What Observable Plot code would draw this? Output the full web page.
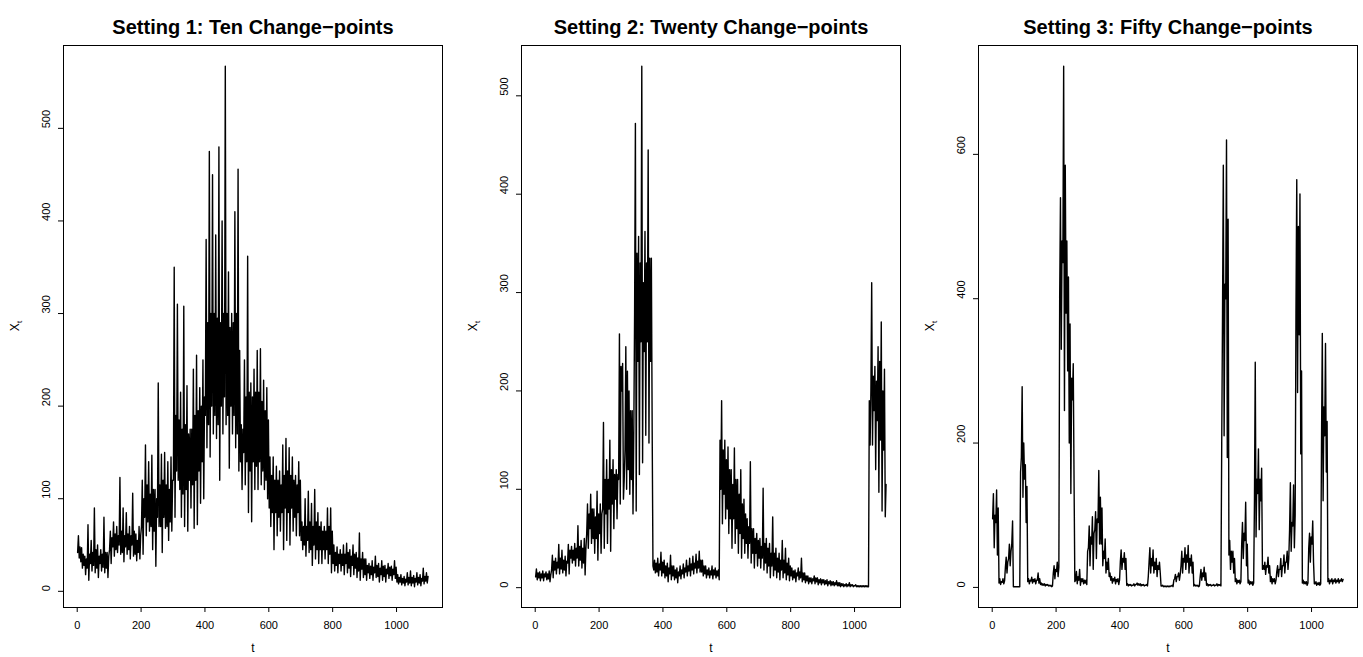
<!DOCTYPE html>
<html><head><meta charset="utf-8">
<script src="https://cdn.jsdelivr.net/npm/d3@7"></script>
<script src="https://cdn.jsdelivr.net/npm/@observablehq/plot@0.6"></script>
<style>
html,body{margin:0;padding:0;background:#fff;overflow:hidden;}
#wrap{position:relative;width:1363px;height:657px;}
.panel{position:absolute;top:0;}
</style></head><body><div id="wrap"></div>
<script>
// Titles and tick labels
const titles = ["Setting 1: Ten Change\u2212points", "Setting 2: Twenty Change\u2212points", "Setting 3: Fifty Change\u2212points"];
const xTicks = [0, 200, 400, 600, 800, 1000];
const yTicks1 = [0, 100, 200, 300, 400, 500];
const yTicks2 = [0, 100, 200, 300, 400, 500];
const yTicks3 = [0, 200, 400, 600];
const xLabel = "t";

// Series: four readings per 10 time steps
// (t = 1.25, 3.75, 6.25, 8.75, 11.25, ...), core and extreme values of the path.
const series1 = [
  42,60,36,48, 32,47,25,40, 28,38,18,35, 25,72,12,40, 30,55,22,42, 28,90,20,45, 25,50,15,38, 30,45,22,40, 26,80,20,42, 25,42,15,38,
  45,65,30,58, 48,75,38,62, 45,70,42,60, 50,123,40,65, 42,90,32,60, 48,85,40,62, 45,70,35,60, 50,106,38,65, 40,62,33,55, 42,70,35,60,
  70,120,40,100, 80,158,60,115, 75,140,65,105, 70,147,45,110, 65,110,27,100, 80,225,70,115, 70,148,42,120, 80,150,68,115, 70,140,55,110, 75,145,65,120,
  120,350,80,190, 130,310,120,185, 110,215,80,175, 105,308,70,180, 110,222,65,170, 120,175,90,175, 115,240,68,190, 120,255,72,195, 130,220,95,200, 140,250,100,210,
  190,380,155,290, 180,475,145,300, 200,450,170,300, 190,385,165,295, 180,480,120,290, 200,400,170,300, 210,567,180,300, 190,345,133,285, 200,300,170,290, 190,410,155,300,
  170,456,130,260, 140,180,110,175, 150,250,115,210, 140,362,85,215, 130,225,75,210, 140,240,110,215, 135,260,110,215, 140,262,115,205, 130,228,110,195, 120,220,100,185,
  90,145,70,125, 85,145,45,120, 85,135,60,120, 80,130,65,115, 85,158,45,125, 90,165,55,130, 85,155,50,125, 90,145,65,120, 80,125,60,115, 85,140,60,120,
  55,75,45,70, 50,100,38,70, 55,108,42,75, 45,95,28,70, 50,110,35,75, 45,85,30,70, 45,75,30,65, 45,70,35,65, 45,90,30,70, 40,90,20,65,
  30,50,22,42, 28,48,20,40, 30,45,22,40, 28,50,18,40, 30,52,20,42, 25,45,16,38, 28,50,18,40, 25,42,15,36, 22,63,12,35, 24,42,15,35,
  18,35,12,28, 20,30,14,27, 18,33,12,26, 20,38,15,28, 16,30,10,25, 18,33,12,27, 16,28,10,24, 19,30,14,26, 17,27,12,24, 18,33,14,26,
  10,18,8,15, 10,18,7,14, 9,16,6,13, 10,20,7,15, 9,22,6,15, 9,17,5,14, 10,20,7,15, 9,18,6,14, 11,25,8,16, 11,20,9,16
];
const series2 = [
  11,19,8,15, 10,16,7,14, 10,17,7,14, 11,16,8,14, 9,17,6,13, 18,33,10,27, 18,30,14,26, 20,44,14,30, 19,38,15,28, 18,32,12,27,
  25,44,14,38, 30,42,25,38, 28,45,22,40, 30,63,22,42, 28,48,20,40, 25,50,13,40, 55,85,40,75, 60,95,45,80, 50,80,35,72, 50,98,28,75,
  55,85,35,75, 80,168,40,110, 75,130,45,110, 80,150,37,120, 85,130,60,115, 90,120,70,115, 110,258,85,225, 200,228,90,110, 140,245,100,220, 120,200,95,180,
  110,180,75,160, 280,472,78,340, 230,357,115,330, 250,530,127,310, 240,362,155,330, 250,445,147,335, 230,335,162,22, 18,28,15,25, 16,30,12,24, 18,36,12,26,
  15,28,10,22, 12,25,6,20, 14,33,8,22, 12,22,8,18, 10,20,5,16, 12,22,9,18, 14,24,10,20, 16,28,12,22, 17,30,12,24, 18,32,14,25,
  20,34,15,27, 20,37,16,28, 16,28,12,22, 14,22,10,18, 13,20,10,17, 13,22,9,18, 13,20,10,17, 12,18,8,150, 100,190,65,140, 95,150,70,130,
  80,143,55,120, 70,120,40,105, 70,142,45,110, 60,110,35,95, 55,120,30,85, 50,90,35,75, 45,70,30,62, 45,128,25,60, 35,60,20,50, 35,55,22,48,
  30,50,20,42, 30,101,18,45, 25,50,15,40, 22,45,10,35, 22,72,12,35, 18,40,10,30, 16,35,8,28, 18,48,10,28, 15,40,8,25, 13,30,7,22,
  12,20,8,17, 10,18,6,15, 12,20,8,16, 10,30,6,15, 8,15,5,12, 7,12,4,10, 6,10,4,9, 7,12,4,10, 6,10,3,8, 5,9,3,8,
  5,8,3,7, 4,8,2,6, 4,7,2,6, 3,6,2,5, 3,7,2,5, 2,5,1,4, 2,4,1,3, 2,4,1,3, 2,5,1,3, 2,3,1,2,
  2,3,1,2, 1,2,1,2, 1,2,1,2, 1,2,1,2, 1,1,190,145, 200,310,145,215, 180,225,120,210, 170,245,97,230, 150,270,78,200, 140,222,72,105
];
const series3 = [
  95,130,55,100, 90,135,45,110, 6,12,4,8, 7,12,5,9, 28,42,20,35, 40,60,30,50, 60,92,1,1, 1,1,1,1, 1,1,1,160, 180,278,125,200,
  150,170,90,140, 8,12,5,10, 9,14,6,11, 8,12,5,10, 10,20,6,12, 4,6,3,5, 3,5,2,4, 3,4,2,3, 2,3,1,2, 20,30,12,25,
  22,35,15,28, 400,540,330,480, 450,722,245,585, 380,480,300,430, 200,365,130,290, 260,310,150,8, 10,22,5,15, 10,25,3,12, 8,12,5,10, 6,10,4,50,
  55,85,30,70, 60,98,25,75, 80,105,40,95, 90,162,60,125, 60,110,30,50, 40,67,20,35, 25,40,15,20, 10,15,6,12, 9,14,5,11, 8,12,4,10,
  35,52,25,40, 35,48,25,40, 3,5,2,4, 3,4,2,3, 3,5,2,4, 4,6,3,5, 3,5,2,4, 3,4,2,3, 3,4,2,15, 35,55,20,40,
  30,52,20,35, 25,40,15,30, 25,35,20,2, 2,3,1,2, 1,2,1,2, 1,2,1,2, 2,3,1,10, 12,18,8,15, 15,20,10,18, 30,50,20,40,
  35,55,25,45, 35,58,20,40, 30,45,20,35, 2,4,2,3, 2,3,1,2, 15,25,10,20, 15,28,10,20, 3,5,2,4, 3,4,2,3, 3,4,2,3,
  3,5,2,4, 3,4,2,200, 380,585,210,420, 400,620,180,510, 45,65,25,50, 35,50,20,40, 8,12,5,10, 7,10,5,8, 60,90,40,75, 65,118,30,60,
  6,10,4,8, 5,8,3,6, 120,312,70,150, 130,192,80,150, 120,165,25,30, 25,35,18,30, 28,42,20,30, 8,15,5,12, 8,12,5,10, 22,30,15,25,
  25,40,15,30, 30,45,20,35, 35,50,25,40, 80,145,50,90, 85,142,55,100, 380,565,270,500, 350,545,185,300, 6,10,5,8, 5,8,3,6, 55,75,35,70,
  60,92,35,5, 5,8,3,6, 4,7,3,5, 200,352,120,250, 210,338,160,230, 8,12,5,10, 8,12,5,10, 8,12,6,10, 8,12,6,10, 9,12,8,11
];
const allSeries = [series1, series2, series3];
const allYTicks = [yTicks1, yTicks2, yTicks3];

const tGrid = d3.range(440).map(k => 1.25 + 2.5 * k);
const font = "'Liberation Sans', Arial, Helvetica, sans-serif";
const offsets = [0, 457.6, 915.2];
const wrap = document.getElementById("wrap");

allSeries.forEach((vals, k) => {
  const lo = d3.min(vals), hi = d3.max(vals);
  const pad = 0.04 * (hi - lo);
  const tMin = 1, tMax = 1100, tp = 0.04 * (tMax - tMin);
  const data = vals.map((v, i) => ({t: tGrid[i], v}));
  const yt = allYTicks[k];
  const svg = Plot.plot({
    width: 448, height: 657,
    marginLeft: 63, marginRight: 6, marginTop: 45, marginBottom: 50,
    x: {domain: [tMin - tp, tMax + tp], axis: null},
    y: {domain: [lo - pad, hi + pad], axis: null},
    style: {fontFamily: font, background: "white", color: "black", overflow: "visible"},
    marks: [
      Plot.line(data, {x: "t", y: "v", stroke: "black", strokeWidth: 1.4}),
      Plot.frame({stroke: "black", strokeWidth: 1}),
      Plot.axisX({ticks: xTicks, tickSize: 5, tickPadding: 9, fontSize: 11, label: null, anchor: "bottom", tickFormat: d => String(d)}),
      Plot.axisY({ticks: yt, tickSize: 5, tickFormat: () => "", label: null, anchor: "left"}),
      Plot.text(yt, {y: d => d, text: d => String(d), frameAnchor: "left", dx: -17, rotate: -90, fontSize: 11}),
      Plot.text([titles[k]], {frameAnchor: "top", dy: -26, fontSize: 20, fontWeight: "bold"}),
      Plot.text([xLabel], {frameAnchor: "bottom", dy: 44, fontSize: 12})
    ]
  });
  svg.classList.add("panel");
  svg.style.left = offsets[k] + "px";
  // y-axis label X with subscript t
  const lab = d3.select(svg).append("text")
    .attr("transform", `translate(19,326) rotate(-90)`)
    .attr("text-anchor", "middle")
    .attr("font-size", 12)
    .attr("font-family", font)
    .attr("fill", "black");
  lab.append("tspan").text("X");
  lab.append("tspan").attr("font-size", 8).attr("dy", 3).text("t");
  wrap.appendChild(svg);
});
</script>
</body></html>
